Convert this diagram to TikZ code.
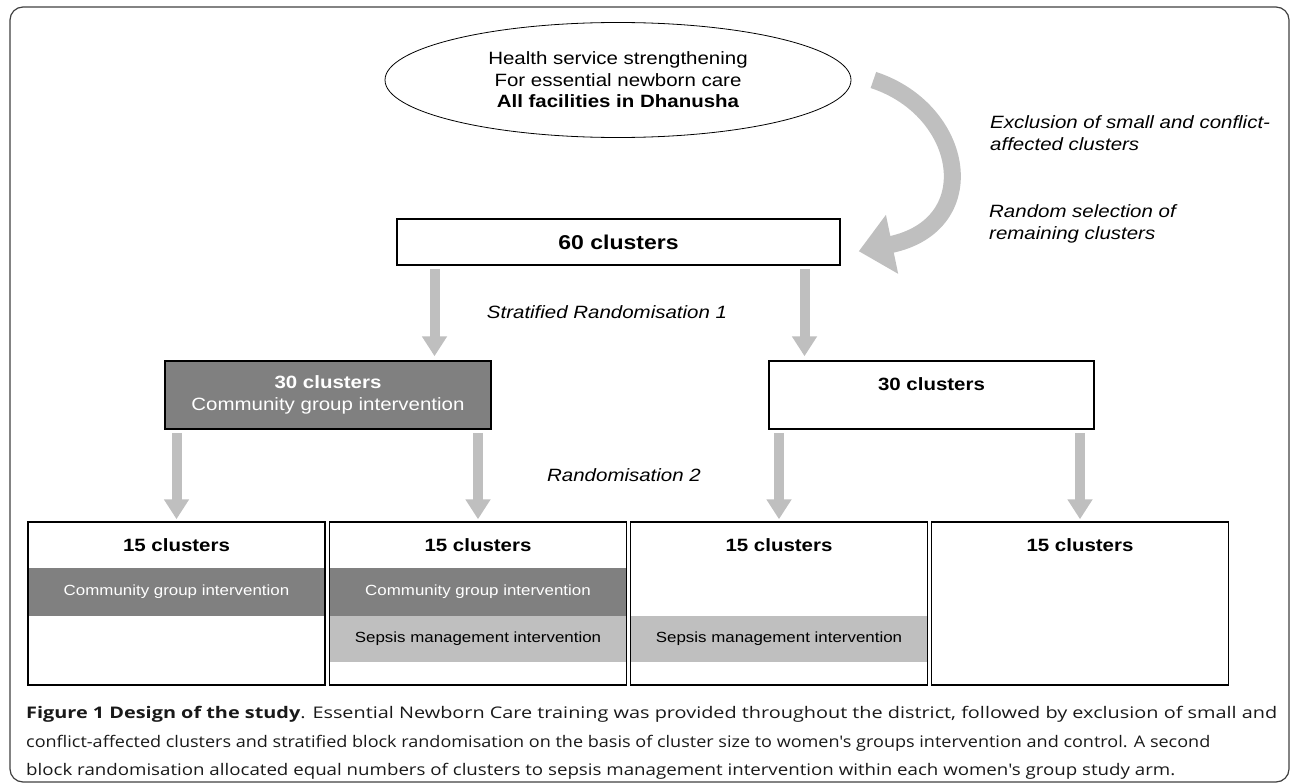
\documentclass[tikz,border=0pt]{standalone}
\usepackage{fontspec}
\usepackage{graphicx}
\setmainfont{Liberation Sans}[FakeStretch=1.15]
\newfontfamily\capfont{Open Sans}
\usetikzlibrary{shapes.geometric,arrows.meta,calc}
\definecolor{dkgray}{RGB}{128,128,128}
\definecolor{ltgray}{RGB}{191,191,191}
\newcommand{\dfont}{\fontsize{17.8}{21.5}\selectfont}
\newcommand{\sfont}{\fontsize{14.7}{18}\selectfont}
\newcommand{\capline}[2]{\resizebox{#1}{\height}{#2}}

\begin{document}
\begin{tikzpicture}[x=1pt,y=-1pt,font=\dfont,
  frame/.style={draw=black!75,line width=1.2pt,rounded corners=13pt},
  clbox/.style={draw,line width=1.5pt,inner sep=0pt,align=center},
  band/.style={inner sep=0pt,minimum width=296pt,font=\sfont},
  fat/.style={draw=ltgray,line width=10pt,-{Triangle[length=20pt,width=24pt]},shorten <=3pt},
  note/.style={font=\dfont\itshape,align=left,anchor=west,inner sep=0pt}]

\useasboundingbox (0,0) rectangle (1293,784);
\draw[frame] (10,7) rectangle (1289,782);

% district level
\node[ellipse,draw,line width=0.8pt,minimum width=466pt,minimum height=115pt,align=center,inner sep=0pt] (facility) at (618,80)
  {Health service strengthening\\For essential newborn care\\\textbf{All facilities in Dhanusha}};

\node[clbox,minimum width=443pt,minimum height=46pt,font=\fontsize{20}{24}\selectfont\bfseries] (sixty) at (618.5,242) {60 clusters};

\coordinate (bendstart) at ($(facility.east)+(22,0)$);
\coordinate (bendend) at ($(sixty.north east)+(18,33)$);
\draw[draw=ltgray,line width=17pt,-{Triangle[length=34pt,width=58pt]}] (bendstart) .. controls (965,110) and (985,225) .. (bendend);

\node[note] (excl) at (990,133) {Exclusion of small and conflict-\\affected clusters};
\node[note] (rsel) at (989,224) {Random selection of\\remaining clusters};

% first randomisation
\node[clbox,fill=dkgray,text=white,minimum width=326pt,minimum height=68pt] (wg) at (328,395) {\textbf{30 clusters}\\Community group intervention};
\node[clbox,minimum width=325pt,minimum height=68pt] (ctl) at (931.5,395) {\textbf{30 clusters}\\\mbox{}};

\coordinate (p1) at ($(sixty.south)+(-184,0)$);
\coordinate (p2) at ($(sixty.south)+(186,0)$);
\draw[fat,shorten >=4pt] (p1) -- (p1 |- wg.north);
\draw[fat,shorten >=4pt] (p2) -- (p2 |- ctl.north);
\node[font=\dfont\itshape] (rand1) at (607,312) {Stratified Randomisation 1};

% second randomisation
\node[band,fill=dkgray,text=white,minimum height=48pt] (cga) at (176.5,592) {Community group intervention};
\node[band,fill=dkgray,text=white,minimum height=48pt] (cgb) at (478,592) {Community group intervention};
\node[band,fill=ltgray,minimum height=46pt] (spb) at (478,639) {Sepsis management intervention};
\node[band,fill=ltgray,minimum height=46pt] (spc) at (779,639) {Sepsis management intervention};

\foreach \n/\x in {a/176.5,b/478,c/779,d/1080} {
  \node[clbox,minimum width=297pt,minimum height=163pt] (arm\n) at (\x,603.5) {};
  \node[font=\dfont\bfseries] (num\n) at (\x,545) {15 clusters};
}

\draw[fat,shorten >=2pt] (wg.south -| arma) -- (arma.north);
\draw[fat,shorten >=2pt] (wg.south -| armb) -- (armb.north);
\draw[fat,shorten >=2pt] (ctl.south -| armc) -- (armc.north);
\draw[fat,shorten >=2pt] (ctl.south -| armd) -- (armd.north);
\node[font=\dfont\itshape] (rand2) at (624,475) {Randomisation 2};

% caption
\begin{scope}[every node/.style={anchor=base west,inner sep=0pt,text=black!90,font=\capfont\fontsize{16}{19}\selectfont}]
\node (cap1) at (26,718) {\capline{1251pt}{\textbf{Figure 1 Design of the study}. Essential Newborn Care training was provided throughout the district, followed by exclusion of small and}};
\node (cap2) at (26,747) {\capline{1184pt}{conflict-affected clusters and stratified block randomisation on the basis of cluster size to women's groups intervention and control. A second}};
\node (cap3) at (26,775) {\capline{1149pt}{block randomisation allocated equal numbers of clusters to sepsis management intervention within each women's group study arm.}};
\end{scope}

\end{tikzpicture}
\end{document}
